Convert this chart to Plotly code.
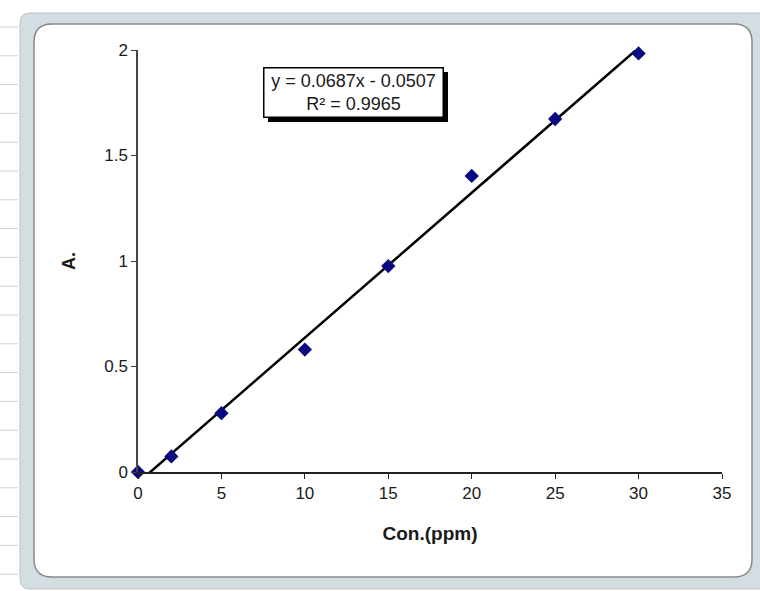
import plotly.graph_objects as go

# ---- data ----
conc_ppm = [0, 2, 5, 10, 15, 20, 25, 30]
absorbance = [0.0, 0.074, 0.279, 0.58, 0.976, 1.403, 1.673, 1.984]
slope = 0.0687
intercept = -0.0507
trend_x = [0, 30]
eq_text = "y = 0.0687x - 0.0507<br>R² = 0.9965"
x_title = "Con.(ppm)"
y_title = "A."

W, H = 760, 591
L, R, T, B = 138, 38, 50, 119
PW, PH = W - L - R, H - T - B
FONT = "Liberation Sans, Arial, sans-serif"


def px(x):
    return (x - L) / PW


def py(y):
    return (H - B - y) / PH


def rrect(x0, y0, x1, y1, r):
    pts = [
        f"M {px(x0 + r)},{py(y0)}",
        f"L {px(x1 - r)},{py(y0)}",
        f"Q {px(x1)},{py(y0)} {px(x1)},{py(y0 + r)}",
        f"L {px(x1)},{py(y1 - r)}",
        f"Q {px(x1)},{py(y1)} {px(x1 - r)},{py(y1)}",
        f"L {px(x0 + r)},{py(y1)}",
        f"Q {px(x0)},{py(y1)} {px(x0)},{py(y1 - r)}",
        f"L {px(x0)},{py(y0 + r)}",
        f"Q {px(x0)},{py(y0)} {px(x0 + r)},{py(y0)}",
        "Z",
    ]
    return " ".join(pts)


trend_y = [slope * x + intercept for x in trend_x]

fig = go.Figure()
fig.add_trace(go.Scatter(x=trend_x, y=trend_y, mode="lines",
                         line=dict(color="#000000", width=2.5),
                         showlegend=False, hoverinfo="skip"))
fig.add_trace(go.Scatter(x=conc_ppm, y=absorbance, mode="markers",
                         marker=dict(symbol="diamond", size=11, color="#0a0a80"),
                         cliponaxis=False, showlegend=False))

shapes = []
row = 27.0
while row < H:
    shapes.append(dict(type="line", xref="paper", yref="paper",
                       x0=px(0), x1=px(18), y0=py(row), y1=py(row),
                       line=dict(color="#d0d0d0", width=1), layer="below"))
    row += 28.8
shapes.append(dict(type="path", xref="paper", yref="paper",
                   path=rrect(20, 13, 775, 589, 10),
                   fillcolor="#d4dde2", line=dict(color="#b8c2c8", width=1),
                   layer="below"))
shapes.append(dict(type="path", xref="paper", yref="paper",
                   path=rrect(34, 24, 752, 577, 18),
                   fillcolor="#ffffff", line=dict(color="#8a8a8a", width=1.5),
                   layer="below"))
shapes.append(dict(type="rect", xref="paper", yref="paper",
                   x0=px(268), x1=px(448), y0=py(72), y1=py(122),
                   fillcolor="#000000", line=dict(width=0), layer="above"))

fig.update_layout(
    width=W, height=H,
    margin=dict(l=L, r=R, t=T, b=B),
    paper_bgcolor="#ffffff",
    plot_bgcolor="rgba(0,0,0,0)",
    font=dict(family=FONT, color="#1a1a1a"),
    shapes=shapes,
    xaxis=dict(range=[0, 35], dtick=5, tick0=0, showgrid=False, zeroline=False,
               showline=True, linecolor="#222222", linewidth=1.5,
               ticks="outside", ticklen=5, tickcolor="#222222",
               tickfont=dict(size=17, family=FONT),
               title=dict(text=x_title, font=dict(size=19, family=FONT, weight="bold"),
                          standoff=25)),
    yaxis=dict(range=[0, 2], dtick=0.5, tick0=0, showgrid=False, zeroline=False,
               showline=True, linecolor="#444444", linewidth=1.5,
               ticks="outside", ticklen=5, tickcolor="#444444",
               tickfont=dict(size=17, family=FONT),
               title=dict(text=y_title, font=dict(size=18, family=FONT, weight="bold"),
                          standoff=24)),
    annotations=[dict(xref="paper", yref="paper", x=px(353), y=py(92),
                      xanchor="center", yanchor="middle", text=eq_text,
                      showarrow=False, align="center",
                      font=dict(size=18, color="#1a1a1a", family=FONT),
                      bgcolor="#ffffff", bordercolor="#000000", borderwidth=1.5,
                      borderpad=1, width=176, height=46)],
)

fig.write_html("out.html")
